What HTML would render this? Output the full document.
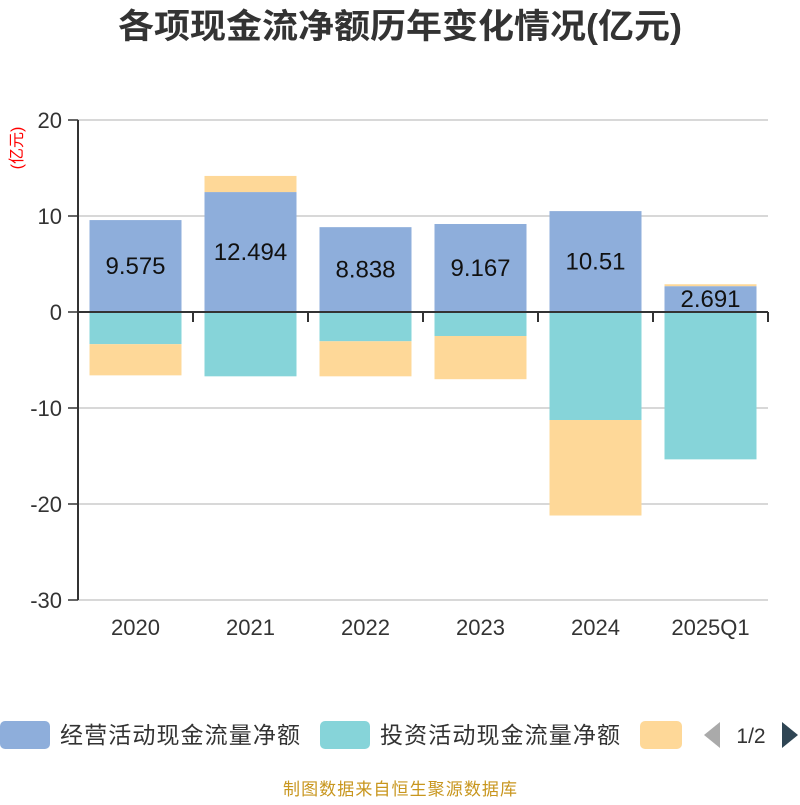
<!DOCTYPE html>
<html><head><meta charset="utf-8"><style>
body{margin:0;background:#fff;width:800px;height:800px;overflow:hidden}
svg text{font-family:"Liberation Sans","Noto Sans CJK SC",sans-serif}
</style></head><body>
<svg id="c" width="800" height="800" xmlns="http://www.w3.org/2000/svg">
<text x="400" y="38" text-anchor="middle" font-size="34" font-weight="bold" fill="#333" textLength="564" lengthAdjust="spacingAndGlyphs">各项现金流净额历年变化情况(亿元)</text>
<text transform="translate(22,148) rotate(-90)" text-anchor="middle" font-size="16" fill="#f00">(亿元)</text>
<g id="grid"></g><g id="bars"></g><g id="axes"></g>
<g>
<rect x="0" y="721" width="50" height="28" rx="5" fill="#8eaedb"/>
<text x="60" y="743" font-size="23" fill="#333" textLength="240">经营活动现金流量净额</text>
<rect x="320" y="721" width="50" height="28" rx="5" fill="#86d4d9"/>
<text x="380" y="743" font-size="23" fill="#333" textLength="240">投资活动现金流量净额</text>
<rect x="640" y="721" width="42" height="28" rx="5" fill="#fed898"/>
<polygon points="720,722 720,748 704,735" fill="#aaa"/>
<text x="751" y="743" text-anchor="middle" font-size="21" fill="#333">1/2</text>
<polygon points="782,722 782,748 798,735" fill="#2f4554"/>
</g>
<text x="400" y="795" text-anchor="middle" font-size="17" fill="#c8961e" textLength="234">制图数据来自恒生聚源数据库</text>
</svg>
<script>
const categories=["2020","2021","2022","2023","2024","2025Q1"];
const operating=[9.575,12.494,8.838,9.167,10.51,2.691];
const investing=[-3.35,-6.7,-3.05,-2.5,-11.25,-15.35];
const financing=[-3.25,1.68,-3.65,-4.5,-9.95,0.2];
const yTicks=[20,10,0,-10,-20,-30];
const NS="http://www.w3.org/2000/svg";
const X0=78,X1=768,yMax=20,yMin=-30,Y0=120,Y1=600;
const y=v=>Y0+(yMax-v)/(yMax-yMin)*(Y1-Y0);
const band=(X1-X0)/categories.length;
const xc=i=>X0+band*(i+0.5);
function mk(t,a,p){const e=document.createElementNS(NS,t);for(const k in a)e.setAttribute(k,a[k]);p.appendChild(e);return e;}
const grid=document.getElementById('grid'),bars=document.getElementById('bars'),axes=document.getElementById('axes');
yTicks.forEach(v=>{
 const l=mk('line',{x1:X0,x2:X1,y1:y(v),y2:y(v),stroke:'#ccc','stroke-width':1.5},grid);
 
 
 const tk=mk('line',{x1:X0-10,x2:X0,y1:y(v),y2:y(v),stroke:'#333','stroke-width':1.5},axes);
 
 
 const t=mk('text',{x:X0-16,y:y(v)+8,'text-anchor':'end','font-size':22,fill:'#333'},axes);
 t.textContent=v;
 
 
});
const bw=92;
categories.forEach((c,i)=>{
 let pos=0,neg=0;
 const series=[[operating[i],'#8eaedb','bar-operating'],[investing[i],'#86d4d9','bar-investing'],[financing[i],'#fed898','bar-financing']];
 series.forEach(([v,col,name])=>{
  let a,b;
  if(v>=0){a=pos;b=pos+v;pos=b;}else{a=neg;b=neg+v;neg=b;}
  const top=Math.min(y(a),y(b)),h=Math.abs(y(a)-y(b));
  const r=mk('rect',{x:xc(i)-bw/2,y:top,width:bw,height:h,fill:col},bars);
  
  
 });
 const t=mk('text',{x:xc(i),y:(y(0)+y(operating[i]))/2+8,'text-anchor':'middle','font-size':24,fill:'#111'},bars);
 t.textContent=operating[i];
 
 
 const xl=mk('text',{x:xc(i),y:635,'text-anchor':'middle','font-size':22,fill:'#333'},axes);
 xl.textContent=c;
 
 
});
const ya=mk('line',{x1:X0,x2:X0,y1:Y0,y2:Y1,stroke:'#333','stroke-width':2},axes);


const xa=mk('line',{x1:X0,x2:X1,y1:y(0),y2:y(0),stroke:'#333','stroke-width':2},axes);


for(let i=1;i<=categories.length;i++){
 const tk=mk('line',{x1:X0+band*i,x2:X0+band*i,y1:y(0),y2:y(0)+10,stroke:'#333','stroke-width':2},axes);
 
 
}
</script>
</body></html>
